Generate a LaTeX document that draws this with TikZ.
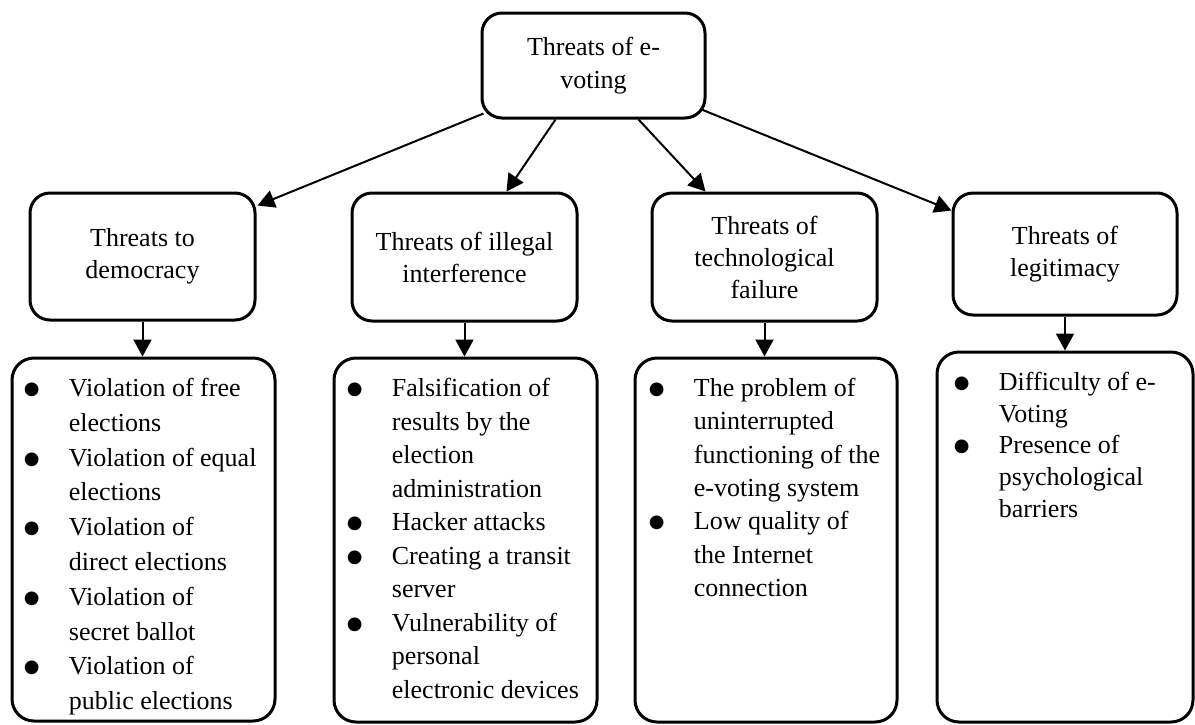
\documentclass[tikz,border=0pt]{standalone}
\usepackage{fontspec}
\setmainfont{Liberation Serif}
\newfontfamily\symfont{DejaVu Sans}
\usetikzlibrary{arrows.meta,calc}
\newcommand{\bigbul}{\raisebox{1pt}{\symfont\fontsize{9}{9}\selectfont ●}}
\tikzset{
 hbox/.style={draw, line width=1.5pt, rounded corners=10pt, align=center, inner sep=0pt, font=\fontsize{13}{16}\selectfont},
 lbox/.style={draw, line width=1.5pt, rounded corners=11pt, inner sep=0pt},
 arr/.style={-{Triangle[length=8.5pt,width=9pt]}, line width=1pt},
 list/.style={anchor=base west, inner sep=0pt, align=left}
}
\begin{document}
\begin{tikzpicture}[x=0.5pt,y=-0.5pt]
\useasboundingbox (0,0) rectangle (1195,724);
% top
\node[hbox, minimum width=111.5pt, minimum height=52.5pt, font=\fontsize{13}{16.5}\selectfont] (top) at (593.5,65.5) {Threats of e-\\voting};
% level 2
\node[hbox, minimum width=112.5pt, minimum height=63.5pt] (b1) at (142.5,256.5) {Threats to\\democracy};
\node[hbox, minimum width=112.5pt, minimum height=64pt] (b2) at (464.5,257) {Threats of illegal\\interference};
\node[hbox, minimum width=112.5pt, minimum height=64pt] (b3) at (764.5,257) {Threats of\\technological\\failure};
\node[hbox, minimum width=112pt, minimum height=61pt] (b4) at (1065,254) {Threats of\\legitimacy};
% level 3 boxes
\node[lbox, minimum width=131.5pt, minimum height=181.5pt] (c1) at (143.5,539.5) {};
\node[lbox, minimum width=131.5pt, minimum height=182pt] (c2) at (465.5,540) {};
\node[lbox, minimum width=131pt, minimum height=182pt] (c3) at (766,540) {};
\node[lbox, minimum width=128pt, minimum height=185pt] (c4) at (1065,537) {};
% lists
\node[list, font=\fontsize{13}{17.4}\selectfont] (l1) at ($(c1.north west)+(13,40)$) {\begin{tabular}[t]{@{}p{22.5pt}@{}l@{}}
\bigbul & Violation of free\\
 & elections\\
\bigbul & Violation of equal\\
 & elections\\
\bigbul & Violation of\\
 & direct elections\\
\bigbul & Violation of\\
 & secret ballot\\
\bigbul & Violation of\\
 & public elections
\end{tabular}};
\node[list, font=\fontsize{13}{16.75}\selectfont] (l2) at ($(c2.north west)+(14,40)$) {\begin{tabular}[t]{@{}p{22.5pt}@{}l@{}}
\bigbul & Falsification of\\
 & results by the\\
 & election\\
 & administration\\
\bigbul & Hacker attacks\\
\bigbul & Creating a transit\\
 & server\\
\bigbul & Vulnerability of\\
 & personal\\
 & electronic devices
\end{tabular}};
\node[list, font=\fontsize{13}{16.65}\selectfont] (l3) at ($(c3.north west)+(15,40)$) {\begin{tabular}[t]{@{}p{22.5pt}@{}l@{}}
\bigbul & The problem of\\
 & uninterrupted\\
 & functioning of the\\
 & e-voting system\\
\bigbul & Low quality of\\
 & the Internet\\
 & connection
\end{tabular}};
\node[list, font=\fontsize{13}{15.85}\selectfont] (l4) at ($(c4.north west)+(18,40)$) {\begin{tabular}[t]{@{}p{22.5pt}@{}l@{}}
\bigbul & Difficulty of e-\\
 & Voting\\
\bigbul & Presence of\\
 & psychological\\
 & barriers
\end{tabular}};
% connectors
\draw[arr] ($(top.south west)+(3,-6)$) -- ($(b1.north east)+(1,14)$);
\draw[arr] ($(top.south west)+(75,0)$) -- ($(b2.north west)+(156,0)$);
\draw[arr] ($(top.south west)+(158,0)$) -- ($(b3.north west)+(55,0)$);
\draw[arr] ($(top.south east)+(-5,-10)$) -- ($(b4.north west)+(0,19)$);
\draw[arr] (b1.south) -- (b1.south |- c1.north);
\draw[arr] (b2.south) -- (b2.south |- c2.north);
\draw[arr] (b3.south) -- (b3.south |- c3.north);
\draw[arr] (b4.south) -- (b4.south |- c4.north);
\end{tikzpicture}
\end{document}
